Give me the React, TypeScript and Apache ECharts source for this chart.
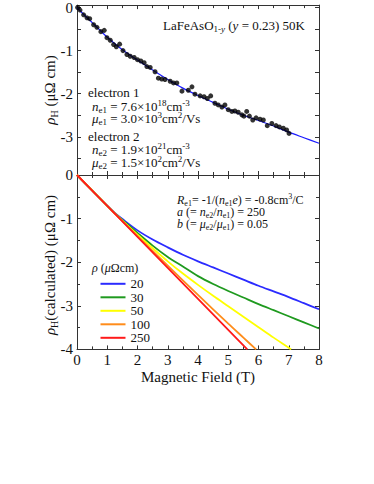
import React, { useEffect, useRef } from 'react';
import * as echarts from 'echarts';

// ---- Top panel: measured Hall resistivity (LaFeAsO1-y, 50K) ----
const measuredField = [
  0.02, 0.1, 0.22, 0.33, 0.42, 0.55, 0.66, 0.79, 0.9, 0.99, 1.1, 1.21, 1.3, 1.41, 1.52, 1.65,
  1.76, 1.89, 2.0, 2.11, 2.22, 2.31, 2.42, 2.58, 2.69, 2.8, 2.91, 3.08, 3.19, 3.3, 3.47, 3.68,
  3.8, 3.9, 4.07, 4.2, 4.31, 4.42, 4.56, 4.67, 4.79, 4.89, 5.0, 5.12, 5.22, 5.33, 5.45, 5.52,
  5.61, 5.7, 5.81, 5.92, 6.05, 6.16, 6.29, 6.44, 6.58, 6.69, 6.82, 6.93, 7.01,
];
const measuredRhoH = [
  0.0, -0.06, -0.17, -0.24, -0.26, -0.4, -0.46, -0.56, -0.53, -0.7, -0.76, -0.86, -0.91, -0.85, -1.0, -1.09,
  -1.13, -1.16, -1.21, -1.24, -1.28, -1.37, -1.39, -1.49, -1.64, -1.66, -1.67, -1.71, -1.75, -1.75, -1.94, -1.92,
  -1.84, -2.01, -2.05, -2.07, -2.11, -2.05, -2.22, -2.26, -2.31, -2.26, -2.37, -2.41, -2.4, -2.43, -2.49, -2.52,
  -2.41, -2.52, -2.61, -2.56, -2.59, -2.61, -2.74, -2.69, -2.74, -2.77, -2.8, -2.84, -2.92,
];
const fitField = [0, 0.25, 0.5, 0.75, 1, 1.5, 2, 2.5, 3, 3.5, 4, 4.5, 5, 5.5, 6, 6.5, 7, 7.5, 8];
const fitRhoH = [0, -0.18, -0.35, -0.52, -0.69, -0.98, -1.22, -1.45, -1.67, -1.87, -2.04, -2.2, -2.36, -2.5, -2.62, -2.75, -2.89, -3.02, -3.15];

// ---- Bottom panel: calculated Hall resistivity for several rho ----
const rhoLabels = ['20', '30', '50', '100', '250'];
const calcField20 = [0, 0.5, 1, 1.25, 1.5, 2, 2.5, 3, 3.5, 4, 4.5, 5, 5.5, 6, 6.5, 7, 7.5, 8];
const calcRho20 = [0, -0.355, -0.705, -0.87, -1.01, -1.27, -1.48, -1.66, -1.83, -1.98, -2.12, -2.26, -2.4, -2.54, -2.67, -2.8, -2.94, -3.08];
const calcField30 = [0, 0.5, 1, 1.25, 1.5, 2, 2.5, 3, 3.5, 4, 4.5, 5, 5.5, 6, 6.5, 7, 7.5, 8];
const calcRho30 = [0, -0.355, -0.707, -0.88, -1.03, -1.33, -1.62, -1.88, -2.1, -2.32, -2.5, -2.66, -2.81, -2.96, -3.1, -3.24, -3.38, -3.52];
const calcField50 = [0, 0.5, 1, 1.5, 2, 2.5, 3, 3.5, 4, 4.5, 5, 5.5, 6, 6.5, 7, 7.08];
const calcRho50 = [0, -0.355, -0.708, -1.045, -1.37, -1.68, -1.98, -2.26, -2.52, -2.77, -3.01, -3.25, -3.49, -3.73, -3.96, -4.0];
const calcField100 = [0, 1, 2, 3, 4, 5, 5.5, 5.92];
const calcRho100 = [0, -0.709, -1.4, -2.08, -2.75, -3.41, -3.73, -4.0];
const calcField250 = [0, 1, 2, 3, 4, 5, 5.63];
const calcRho250 = [0, -0.71, -1.42, -2.13, -2.84, -3.55, -4.0];

const topYLabels = [0, -1, -2, -3];
const topYTicks = [0, -0.5, -1, -1.5, -2, -2.5, -3, -3.5];

const calcColors = ['#2b2bff', '#1f9a1f', '#ffff00', '#ff8c1a', '#ff1a1a'];

const FONT = 'Liberation Serif';

const zip = (a: number[], b: number[]) => a.map((v, i) => [v, b[i]]);

const base = { fontFamily: FONT, color: '#111' };
const rich = {
  n: { ...base, fontSize: 13, lineHeight: 16 },
  i: { ...base, fontSize: 13, lineHeight: 16, fontStyle: 'italic' },
  sub: { ...base, fontSize: 9, lineHeight: 16, verticalAlign: 'bottom' },
  isub: { ...base, fontSize: 9, lineHeight: 16, verticalAlign: 'bottom', fontStyle: 'italic' },
  sup: { ...base, fontSize: 9, lineHeight: 16, verticalAlign: 'top' },
  m: { ...base, fontSize: 12, lineHeight: 15 },
  mi: { ...base, fontSize: 12, lineHeight: 15, fontStyle: 'italic' },
  msub: { ...base, fontSize: 8, lineHeight: 15, verticalAlign: 'bottom' },
  msup: { ...base, fontSize: 8, lineHeight: 15, verticalAlign: 'top' },
  N: { ...base, fontSize: 15, lineHeight: 18 },
  I: { ...base, fontSize: 15, lineHeight: 18, fontStyle: 'italic' },
  SUB: { ...base, fontSize: 10, lineHeight: 18, verticalAlign: 'bottom' },
};

const txt = (x: number, y: number, text: string, extra: any = {}) => ({
  type: 'text',
  x,
  y,
  rotation: extra.rotation || 0,
  style: {
    text,
    rich,
    fontFamily: FONT,
    fontSize: 13,
    textAlign: extra.align || 'left',
    textVerticalAlign: 'middle',
    fill: '#111',
  },
});

function makeXAxis(gridIndex: number, position: string, showLabel: boolean) {
  return {
    type: 'value',
    gridIndex,
    position,
    min: 0,
    max: 8,
    interval: 1,
    axisLine: { show: true, onZero: false, lineStyle: { color: '#333', width: 1 } },
    axisTick: { show: true, inside: true, length: 4, lineStyle: { color: '#333' } },
    minorTick: { show: true, splitNumber: 2, length: 3, lineStyle: { color: '#333' } },
    splitLine: { show: false },
    minorSplitLine: { show: false },
    axisLabel: {
      show: showLabel,
      margin: 3,
      fontFamily: FONT,
      fontSize: 15,
      color: '#111',
    },
  };
}

export default function App() {
  const ref = useRef<HTMLDivElement>(null);
  useEffect(() => {
    if (!ref.current) return;
    const chart = echarts.init(ref.current, null, { renderer: 'svg' });
    const topY = (position: string, showLabel: boolean) => ({
      type: 'value',
      gridIndex: 0,
      position,
      min: -3.885,
      max: 0.056,
      axisLine: { show: true, onZero: false, lineStyle: { color: '#333', width: 1 } },
      axisTick: { show: true, inside: true, length: 4, customValues: topYTicks, lineStyle: { color: '#333' } },
      splitLine: { show: false },
      axisLabel: {
        show: showLabel,
        customValues: topYLabels,
        margin: 4,
        fontFamily: FONT,
        fontSize: 15,
        color: '#111',
      },
    });
    const botY = (position: string, showLabel: boolean) => ({
      type: 'value',
      gridIndex: 1,
      position,
      min: -4,
      max: 0,
      interval: 1,
      axisLine: { show: true, onZero: false, lineStyle: { color: '#333', width: 1 } },
      axisTick: { show: true, inside: true, length: 4, lineStyle: { color: '#333' } },
      minorTick: { show: true, splitNumber: 2, length: 3, lineStyle: { color: '#333' } },
      splitLine: { show: false },
      axisLabel: {
        show: showLabel,
        margin: 4,
        fontFamily: FONT,
        fontSize: 15,
        color: '#111',
      },
    });
    const calcSeries = [
      zip(calcField20, calcRho20),
      zip(calcField30, calcRho30),
      zip(calcField50, calcRho50),
      zip(calcField100, calcRho100),
      zip(calcField250, calcRho250),
    ].map((d, i) => ({
      name: rhoLabels[i],
      type: 'line',
      xAxisIndex: 2,
      yAxisIndex: 2,
      data: d,
      smooth: 0.3,
      symbol: 'none',
      clip: true,
      lineStyle: { color: calcColors[i], width: 1.8 },
      itemStyle: { color: calcColors[i] },
      z: 3 + i,
    }));

    chart.setOption({
      animation: false,
      backgroundColor: '#ffffff',
      grid: [
        { left: 77, top: 0, width: 242, height: 175 },
        { left: 77, top: 175, width: 242, height: 174.4 },
      ],
      xAxis: [
        makeXAxis(0, 'bottom', false),
        makeXAxis(0, 'top', false),
        makeXAxis(1, 'bottom', true),
        makeXAxis(1, 'top', false),
      ],
      yAxis: [topY('left', true), topY('right', false), botY('left', true), botY('right', false)],
      legend: {
        data: rhoLabels,
        orient: 'vertical',
        left: 95.5,
        top: 272.3,
        icon: 'rect',
        itemWidth: 25,
        itemHeight: 2,
        itemGap: 0.5,
        textStyle: {
          fontFamily: FONT,
          fontSize: 13,
          lineHeight: 12,
          color: '#111',
          width: 20,
          align: 'right',
        },
        selectedMode: false,
      },
      series: [
        {
          name: 'fit',
          type: 'line',
          xAxisIndex: 0,
          yAxisIndex: 0,
          data: zip(fitField, fitRhoH),
          smooth: 0.3,
          symbol: 'none',
          lineStyle: { color: '#1a1aff', width: 1.2 },
          z: 3,
        },
        {
          name: 'measured',
          type: 'scatter',
          xAxisIndex: 0,
          yAxisIndex: 0,
          data: zip(measuredField, measuredRhoH),
          symbol: 'circle',
          symbolSize: 5,
          itemStyle: { color: '#000' },
          z: 4,
        },
        ...calcSeries,
      ],
      graphic: [
        txt(163, 25, '{n|LaFeAsO}{sub|1-}{isub|y}{n| (}{i|y}{n| = 0.23) 50K}'),
        txt(88, 92.7, '{n|electron 1}'),
        txt(92, 106, '{i|n}{sub|e1}{n| = 7.6×10}{sup|18}{n|cm}{sup|-3}'),
        txt(92, 118.5, '{i|μ}{sub|e1}{n| = 3.0×10}{sup|3}{n|cm}{sup|2}{n|/Vs}'),
        txt(88, 136, '{n|electron 2}'),
        txt(92, 149, '{i|n}{sub|e2}{n| = 1.9×10}{sup|21}{n|cm}{sup|-3}'),
        txt(92, 162.5, '{i|μ}{sub|e2}{n| = 1.5×10}{sup|2}{n|cm}{sup|2}{n|/Vs}'),
        txt(177, 200, '{mi|R}{msub|e1}{m|= -1/(}{mi|n}{msub|e1}{mi|e}{m|) = -0.8cm}{msup|3}{m|/C}'),
        txt(177, 212, '{mi|a}{m| (= }{mi|n}{msub|e2}{m|/}{mi|n}{msub|e1}{m|) = 250}'),
        txt(177, 224, '{mi|b}{m| (= }{mi|μ}{msub|e2}{m|/}{mi|μ}{msub|e1}{m|) = 0.05}'),
        txt(92, 268.3, '{mi|ρ}{m| (}{mi|μ}{m|Ωcm)}'),
        txt(50, 90, '{I|ρ}{SUB|H}{N| (μΩ cm)}', { rotation: Math.PI / 2, align: 'center' }),
        txt(50, 265, '{I|ρ}{SUB|H}{N|(calculated) (μΩ cm)}', { rotation: Math.PI / 2, align: 'center' }),
        txt(198, 377, '{N|Magnetic Field (T)}', { align: 'center' }),
      ],
    });
    return () => chart.dispose();
  }, []);
  return (
    <div
      ref={ref}
      style={{ position: 'fixed', left: 0, top: 0, width: 374, height: 484, background: '#fff' }}
    />
  );
}
